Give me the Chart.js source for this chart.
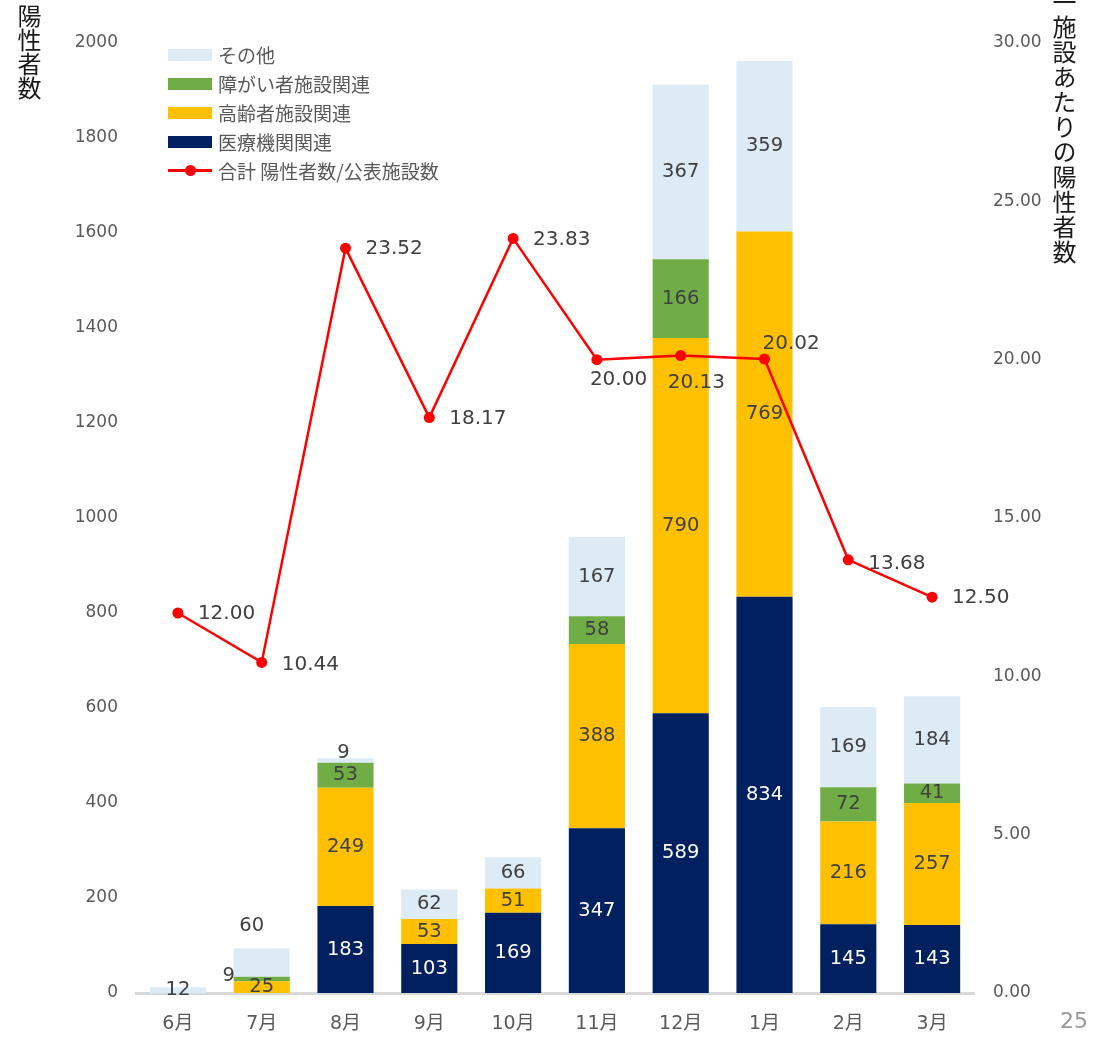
<!DOCTYPE html>
<html lang="ja">
<head>
<meta charset="utf-8">
<script src="https://cdn.jsdelivr.net/npm/chart.js@4.4.0/dist/chart.umd.min.js"></script>
<style>
  body { margin: 0; background: #fff; }
  #wrap { position: relative; width: 1106px; height: 1040px; overflow: hidden; }
  #chart { position: absolute; left: 0; top: 0; }
  .ytitle {
    position: absolute; writing-mode: vertical-rl; text-orientation: upright;
    font-family: "Noto Sans CJK JP", sans-serif; font-size: 24px; line-height: 1;
    color: #1a1a1a; letter-spacing: 0;
  }
  #legend {
    position: absolute; left: 168px; top: 40px;
    font-family: "Noto Sans CJK JP", sans-serif; font-size: 19px; color: #595959;
  }
  #legend .row { display: flex; align-items: center; height: 29px; }
  #legend .sw { width: 44px; height: 12px; margin-right: 6px; position: relative; }
  #legend .ln { width: 44px; height: 3px; margin-right: 6px; position: relative; }
  #legend .ln i { position: absolute; left: 17px; top: -4px; width: 11px; height: 11px; border-radius: 50%; }
  #page { position: absolute; left: 1060px; top: 1008px; font-family: "DejaVu Sans", sans-serif; font-size: 22px; color: #999; }
</style>
</head>
<body>
<div id="wrap">
  <canvas id="chart" width="1106" height="1040"></canvas>
  <div class="ytitle" style="left:17px; top:4px;">陽性者数</div>
  <div class="ytitle" style="left:1052px; top:-10px; letter-spacing:1px;">一施設あたりの陽性者数</div>
  <div id="legend"></div>
  <div id="page">25</div>
</div>
<script>
const months = ['6月', '7月', '8月', '9月', '10月', '11月', '12月', '1月', '2月', '3月'];
const medical = [0, 0, 183, 103, 169, 347, 589, 834, 145, 143];
const elderly = [0, 25, 249, 53, 51, 388, 790, 769, 216, 257];
const disabled = [0, 9, 53, 0, 0, 58, 166, 0, 72, 41];
const others = [12, 60, 9, 62, 66, 167, 367, 359, 169, 184];
const perFacility = [12.00, 10.44, 23.52, 18.17, 23.83, 20.00, 20.13, 20.02, 13.68, 12.50];

const countMax = 2000, countStep = 200;
const rateMax = 30, rateStep = 5;

// small nudges for labels that would otherwise collide (dataset index -> point index)
const barLabelShift = {
  2: { 1: [-33, -3] },
  3: { 1: [-10, -37], 2: [-2, -8] }
};
const lineLabelShift = {
  1: [20, 2], 5: [-7, 20], 6: [-13, 27], 7: [-2, -15], 8: [20, 4]
};

const numFont = '"DejaVu Sans", "Noto Sans CJK JP", sans-serif';

const labelPlugin = {
  id: 'valueLabels',
  afterDatasetsDraw(chart) {
    const ctx = chart.ctx;
    ctx.save();
    ctx.textBaseline = 'middle';
    // stacked bar values
    ctx.font = '19.5px ' + numFont;
    ctx.textAlign = 'center';
    chart.data.datasets.forEach((ds, di) => {
      if (ds.type !== 'bar') return;
      const meta = chart.getDatasetMeta(di);
      meta.data.forEach((bar, i) => {
        const v = ds.data[i];
        if (!v) return;
        const s = (barLabelShift[di] && barLabelShift[di][i]) || [0, 0];
        ctx.fillStyle = ds.labelColor;
        ctx.fillText(String(v), bar.x + s[0], (bar.y + bar.base) / 2 + s[1]);
      });
    });
    // line values
    const li = chart.data.datasets.findIndex(d => d.type === 'line');
    const lds = chart.data.datasets[li];
    ctx.font = '20px ' + numFont;
    ctx.textAlign = 'left';
    ctx.fillStyle = '#404040';
    chart.getDatasetMeta(li).data.forEach((pt, i) => {
      const s = lineLabelShift[i] || [20, 1];
      ctx.fillText(lds.data[i].toFixed(2), pt.x + s[0], pt.y + s[1]);
    });
    ctx.restore();
  }
};

const tickFont = { family: numFont, size: 17 };

const chart = new Chart(document.getElementById('chart'), {
  data: {
    labels: months,
    datasets: [
      { type: 'bar', label: '医療機関関連', data: medical, backgroundColor: '#002060', labelColor: '#ffffff', yAxisID: 'y', stack: 's', order: 1 },
      { type: 'bar', label: '高齢者施設関連', data: elderly, backgroundColor: '#FFC000', labelColor: '#404040', yAxisID: 'y', stack: 's', order: 1 },
      { type: 'bar', label: '障がい者施設関連', data: disabled, backgroundColor: '#70AD47', labelColor: '#404040', yAxisID: 'y', stack: 's', order: 1 },
      { type: 'bar', label: 'その他', data: others, backgroundColor: '#DDEBF7', labelColor: '#404040', yAxisID: 'y', stack: 's', order: 1 },
      { type: 'line', label: '合計 陽性者数/公表施設数', data: perFacility, borderColor: '#FF0000', backgroundColor: '#FF0000',
        borderWidth: 2.5, pointRadius: 5.5, pointBackgroundColor: '#FF0000', pointBorderWidth: 0, tension: 0, yAxisID: 'y1', order: 0 }
    ]
  },
  options: {
    responsive: false,
    animation: false,
    layout: { padding: { top: 43, left: 0, right: 0, bottom: 0 } },
    datasets: { bar: { barPercentage: 0.67, categoryPercentage: 1 } },
    plugins: { legend: { display: false }, tooltip: { enabled: false } },
    scales: {
      x: {
        stacked: true,
        grid: { display: false, drawTicks: false },
        border: { display: true, color: '#D9D9D9', width: 3 },
        ticks: { color: '#595959', font: { family: numFont, size: 19 }, padding: 20 },
        afterFit: s => { s.height = 47; }
      },
      y: {
        stacked: true, position: 'left', min: 0, max: countMax,
        grid: { display: false, drawTicks: false },
        border: { display: false },
        ticks: { stepSize: countStep, color: '#595959', font: tickFont, padding: 18, callback: v => String(v) },
        afterFit: s => { s.width = 136; }
      },
      y1: {
        position: 'right', min: 0, max: rateMax,
        grid: { display: false, drawTicks: false },
        border: { display: false },
        ticks: { stepSize: rateStep, color: '#595959', font: tickFont, padding: 19, callback: v => v.toFixed(2) },
        afterFit: s => { s.width = 132; }
      }
    }
  },
  plugins: [labelPlugin]
});

// legend block, listed top-down in the order the stack reads
const legend = document.getElementById('legend');
const bars = chart.data.datasets.filter(d => d.type === 'bar').reverse();
bars.forEach(d => {
  const row = document.createElement('div');
  row.className = 'row';
  row.innerHTML = '<span class="sw" style="background:' + d.backgroundColor + '"></span><span></span>';
  row.lastChild.textContent = d.label;
  legend.appendChild(row);
});
const lineDs = chart.data.datasets.find(d => d.type === 'line');
const lrow = document.createElement('div');
lrow.className = 'row';
lrow.innerHTML = '<span class="ln" style="background:' + lineDs.borderColor + '"><i style="background:' + lineDs.borderColor + '"></i></span><span></span>';
lrow.lastChild.textContent = lineDs.label;
legend.appendChild(lrow);
</script>
</body>
</html>
